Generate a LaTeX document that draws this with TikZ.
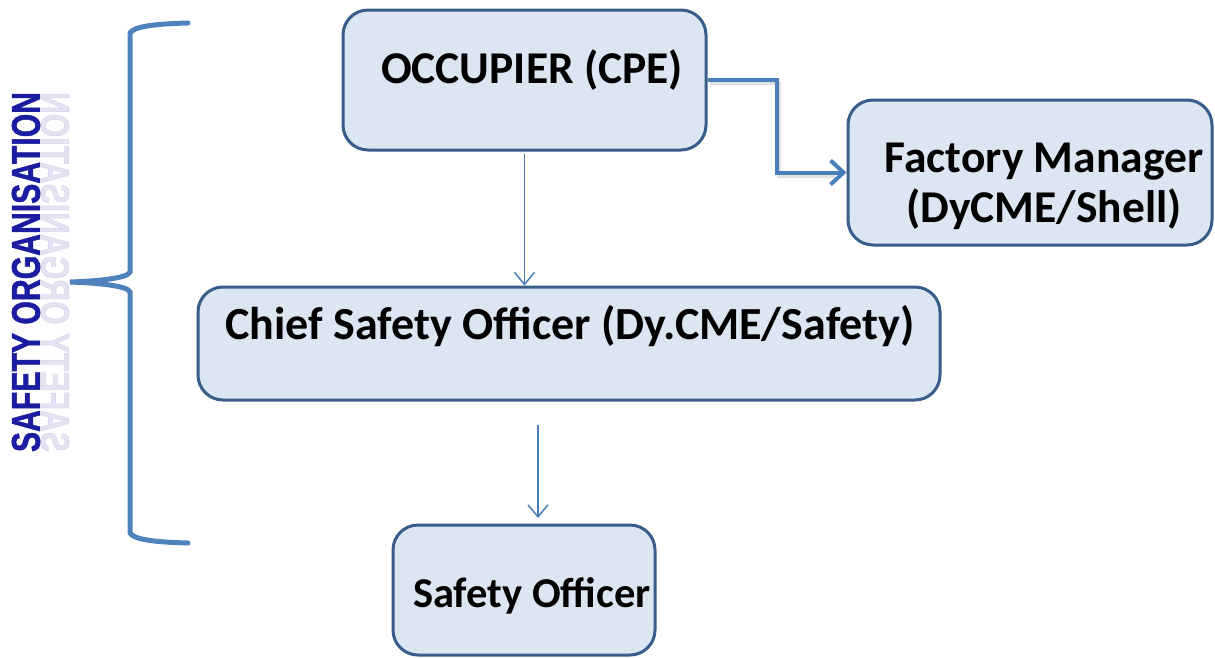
\documentclass[tikz,border=0pt]{standalone}
\usepackage{fontspec}
\setmainfont{Carlito}
\newfontfamily\titlefont{Liberation Sans}[BoldFeatures={FakeBold=1.5}]
\usetikzlibrary{arrows.meta,calc}
\definecolor{boxfill}{HTML}{DCE6F2}
\definecolor{boxdraw}{HTML}{385D8A}
\definecolor{arrowc}{HTML}{4A7EBB}
\definecolor{bracec}{HTML}{4F81BD}
\definecolor{titleblue}{HTML}{1C1CA0}
\begin{document}
\begin{tikzpicture}[x=1pt,y=-1pt,
  box/.style={draw=boxdraw,fill=boxfill,line width=3pt,rounded corners=25pt,inner sep=0pt},
  lbl/.style={anchor=base,inner sep=0pt,text=black},
  thinarrow/.style={draw=arrowc,line width=1.5pt,-{Straight Barb[length=12pt,width=20pt,line width=1.5pt]}},
  thickarrow/.style={draw=arrowc,line width=4pt,-{Straight Barb[length=13pt,width=24pt,line width=4pt]}},
  bracestyle/.style={draw=bracec,line width=5pt,line cap=round}]
\useasboundingbox[fill=white] (0,0) rectangle (1215,657);

% boxes
\node[box,minimum width=363pt,minimum height=140pt] (occ) at (524.5,80) {};
\node[box,minimum width=364pt,minimum height=145pt] (fm) at (1030,172.5) {};
\node[box,minimum width=742pt,minimum height=113pt] (chief) at (569,343.5) {};
\node[box,minimum width=262pt,minimum height=130pt] (so) at (524,590) {};

% texts
\node[lbl,font=\bfseries\fontsize{45.5}{54}\selectfont] (occt) at (532,83) {OCCUPIER (CPE)};
\node[lbl,font=\bfseries\fontsize{45.5}{54}\selectfont] (fmt1) at (1044,172) {Factory Manager};
\node[lbl,font=\bfseries\fontsize{45.5}{54}\selectfont] (fmt2) at (1044,222) {(DyCME/Shell)};
\node[lbl,font=\bfseries\fontsize{46}{55}\selectfont] (chieft) at (570,339) {Chief Safety Officer (Dy.CME/Safety)};
\node[lbl,font=\bfseries\fontsize{42.5}{51}\selectfont] (sot) at (532,607) {Safety Officer};

% connectors
\draw[thinarrow] ([yshift=-2pt]occ.south) -- (occ.south |- chief.north);
\coordinate (c2start) at (538,425);
\coordinate (c2end) at (538,518);
\draw[thinarrow] (c2start) -- (c2end);
\coordinate (elbow) at ($(occ.east)!0.5!(fm.west)$);
\draw[draw=black!12,line width=4pt] ([xshift=2pt,yshift=-3pt]occ.east) -| ([xshift=2pt,yshift=-3pt]elbow) |- ([xshift=-12pt,yshift=-3pt]fm.west);
\draw[thickarrow] (occ.east) -| (elbow) |- (fm.west);

% brace
\coordinate (btop) at (188,23);
\coordinate (btip) at (70,282);
\coordinate (bbot) at (188,543);
\draw[bracestyle] (btop) .. controls (150,24) and (134,27) .. (130,33) -- (130,272)
  .. controls (128,278) and (100,281) .. (btip)
  .. controls (100,283) and (128,286) .. (130,292) -- (130,533)
  .. controls (134,539) and (150,542) .. (bbot);

% title with reflection
\node[rotate=90,yscale=-1,inner sep=0pt,text=titleblue!40,opacity=0.3,anchor=center] (titlerefl) at (55,272)
  {\resizebox{360pt}{28pt}{\titlefont\bfseries SAFETY ORGANISATION}};
\node[rotate=90,inner sep=0pt,text=titleblue,anchor=center] (title) at (26,272)
  {\resizebox{360pt}{28pt}{\titlefont\bfseries SAFETY ORGANISATION}};
\end{tikzpicture}
\end{document}
